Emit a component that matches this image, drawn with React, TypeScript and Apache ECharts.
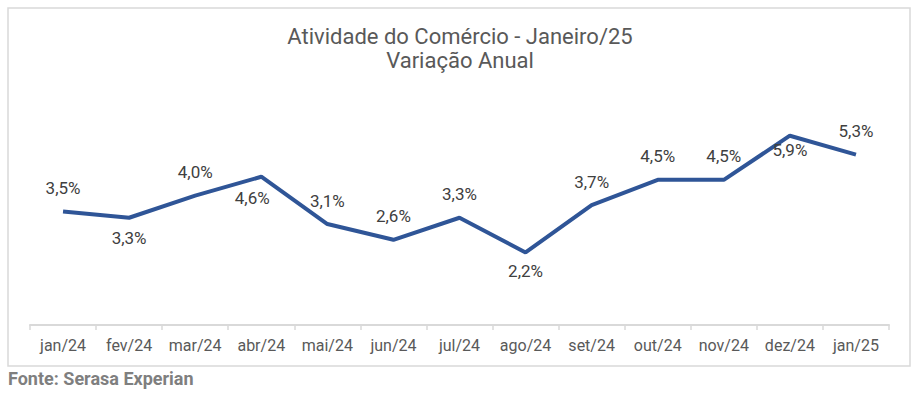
import React, { useEffect, useRef } from "react";
import * as echarts from "echarts";

const categories = ["jan/24", "fev/24", "mar/24", "abr/24", "mai/24", "jun/24", "jul/24", "ago/24", "set/24", "out/24", "nov/24", "dez/24", "jan/25"];
const values = [3.5, 3.3, 4.0, 4.6, 3.1, 2.6, 3.3, 2.2, 3.7, 4.5, 4.5, 5.9, 5.3];
const labelSide = ["top", "bottom", "top", "bottom", "top", "top", "top", "bottom", "top", "top", "top", "bottom", "top"];
const labelGap = [15, 12, 15, 13, 15, 15, 15, 10, 15, 15, 15, 6, 15];
const titleText = "Atividade do Comércio - Janeiro/25\nVariação Anual";
const sourceText = "Fonte: Serasa Experian";

export default function App() {
  const ref = useRef<HTMLDivElement>(null);
  useEffect(() => {
    if (!ref.current) return;
    const chart = echarts.init(ref.current, null, { renderer: "svg" });
    const font = "Roboto";
    const data = values.map((v, i) => ({
      value: v,
      label: {
        show: true,
        position: labelSide[i],
        distance: labelGap[i],
        offset: i === 3 ? [-9, 0] : [0, 0],
      },
    }));
    chart.setOption({
      animation: false,
      backgroundColor: "#ffffff",
      title: {
        text: titleText,
        left: 455,
        textAlign: "center",
        top: 19,
        textStyle: { fontFamily: font, fontSize: 22, fontWeight: "normal", color: "#595959", lineHeight: 24 },
      },
      graphic: [
        {
          type: "rect",
          shape: { x: 8, y: 8, width: 902, height: 358 },
          style: { fill: "none", stroke: "#d9d9d9", lineWidth: 1.5 },
          silent: true,
        },
        {
          type: "text",
          left: 8,
          top: 369,
          style: { text: sourceText, fontFamily: font, fontSize: 18, fontWeight: "bold", fill: "#7f7f7f" },
        },
      ],
      grid: { left: 30, right: 24, top: 101, bottom: 72, containLabel: false },
      xAxis: {
        type: "category",
        data: categories,
        boundaryGap: true,
        axisLine: { onZero: false, lineStyle: { color: "#d9d9d9", width: 2 } },
        axisTick: { show: true, length: 5, lineStyle: { color: "#d9d9d9", width: 1.5 } },
        axisLabel: { fontFamily: font, fontSize: 16, color: "#595959", margin: 12, interval: 0 },
      },
      yAxis: {
        type: "value",
        min: -0.1,
        max: 7,
        show: false,
        splitLine: { show: false },
      },
      series: [
        {
          type: "line",
          data,
          symbol: "circle",
          symbolSize: 0,
          showSymbol: true,
          lineStyle: { color: "#2f5597", width: 4 },
          itemStyle: { color: "#2f5597" },
          label: {
            show: true,
            fontFamily: font,
            fontSize: 17,
            color: "#404040",
            formatter: (p: any) => p.value.toFixed(1).replace(".", ",") + "%",
          },
        },
      ],
    });
    return () => chart.dispose();
  }, []);
  return (
    <div
      ref={ref}
      style={{ position: "absolute", left: 0, top: 0, width: 913, height: 397 }}
    />
  );
}
